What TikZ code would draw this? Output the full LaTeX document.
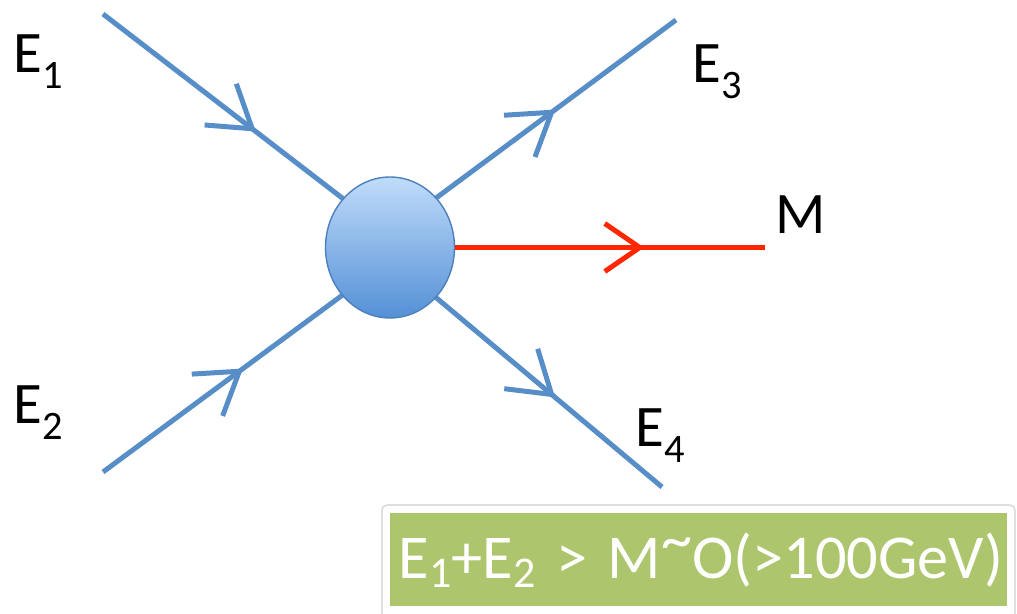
\documentclass[tikz,border=0pt]{standalone}
\usepackage{fontspec}
\setmainfont{Carlito}
\usetikzlibrary{arrows.meta,decorations.markings,backgrounds,shapes.geometric}
\definecolor{legBlue}{RGB}{88,142,199}
\definecolor{legRed}{RGB}{255,38,0}
\definecolor{blobTop}{RGB}{192,220,250}
\definecolor{blobBottom}{RGB}{84,144,214}
\definecolor{blobLine}{RGB}{78,128,188}
\definecolor{condGreen}{RGB}{173,198,110}
\definecolor{condFrame}{RGB}{222,222,222}
% subscripts for the leg labels and the condition box
\newcommand{\lblsub}[1]{\raisebox{-0.27em}{\fontsize{23}{25}\selectfont #1}}
\newcommand{\condsub}[1]{\raisebox{-0.14em}{\fontsize{25}{27}\selectfont #1}}
\begin{document}
\begin{tikzpicture}[x=0.02cm, y=-0.02cm,
  leg/.style={line width=0.1cm, draw=legBlue},
  legout/.style={leg, postaction={decorate}, decoration={markings,
    mark=at position #1 with {\arrow[line width=0.1cm, legBlue]{Straight Barb[length=0.8cm, width=1.04cm]}}}},
  massline/.style={line width=0.1cm, draw=legRed, postaction={decorate}, decoration={markings,
    mark=at position #1 with {\arrow[line width=0.1cm, legRed]{Straight Barb[length=0.7cm, width=0.96cm]}}}},
  blob/.style={ellipse, minimum width=2.58cm, minimum height=2.82cm, inner sep=0pt,
    top color=blobTop, bottom color=blobBottom, draw=blobLine, line width=0.8pt},
  lbl/.style={anchor=base west, inner sep=0pt, font=\fontsize{33.5}{38}\selectfont},
  condbox/.style={anchor=north west, fill=condGreen, text=white, align=left,
    minimum height=1.86cm, text width=12.0cm, inner xsep=0.17cm, inner ysep=0pt,
    font=\fontsize{35.5}{40}\selectfont}]
\clip (0,0) rectangle (1017,614);
% Interaction blob
\node[blob] (blob) at (390,247.5) {};
% Free ends of the legs
\coordinate (e1end) at (103,14);
\coordinate (e2end) at (103,472);
\coordinate (e3end) at (676,20);
\coordinate (e4end) at (662,487);
\coordinate (mend) at (765,247.5);
% Legs behind the blob
\begin{scope}[on background layer]
  \draw[legout=0.62] (e1end) -- ([shift={(6,6)}]blob.133);
  \draw[legout=0.57] (e2end) -- ([shift={(6,-6)}]blob.226);
  \draw[legout=0.51] ([shift={(-6,6)}]blob.48) -- (e3end);
  \draw[legout=0.54] ([shift={(-6,-6)}]blob.312) -- (e4end);
\end{scope}
\draw[massline=0.61] (blob.east) -- (mend);
% Labels
\node[lbl] (e1lbl) at (13,73) {E\lblsub{1}};
\node[lbl] (e2lbl) at (13,424) {E\lblsub{2}};
\node[lbl] (e3lbl) at (692,83) {E\lblsub{3}};
\node[lbl] (e4lbl) at (635,447) {E\lblsub{4}};
\node[lbl] (mlbl) at (775,234) {M};
% Condition box
\draw[condFrame, fill=white, rounded corners=3pt, line width=1pt] (382,505) rectangle (1015,630);
\node[condbox] (cond) at (390,513) {\mbox{E\condsub{1}+E\condsub{2} > M\raisebox{0.28em}{\textasciitilde}O(>100GeV)}};
\end{tikzpicture}
\end{document}
